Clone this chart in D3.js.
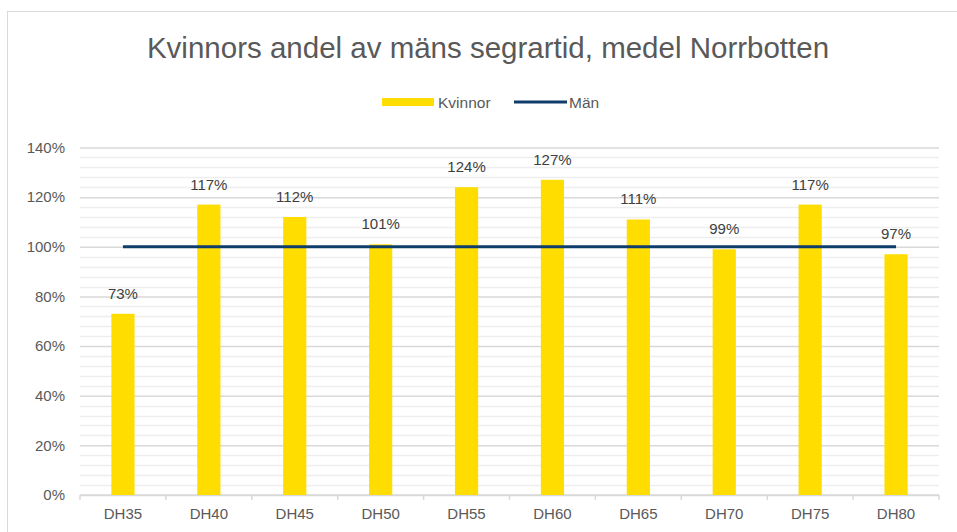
<!DOCTYPE html>
<html>
<head>
<meta charset="utf-8">
<script src="https://cdn.jsdelivr.net/npm/d3@7/dist/d3.min.js"></script>
<style>
  html, body { margin: 0; padding: 0; background: #fff; }
  svg { display: block; font-family: 'Liberation Sans', Arial, sans-serif; }
</style>
</head>
<body>
<svg id="chart" width="957" height="532"></svg>
<script>
  // ---- Data ----
  const categories = ['DH35', 'DH40', 'DH45', 'DH50', 'DH55', 'DH60', 'DH65', 'DH70', 'DH75', 'DH80'];
  const kvinnor = [0.73, 1.17, 1.12, 1.01, 1.24, 1.27, 1.11, 0.99, 1.17, 0.97];
  const man = [1, 1, 1, 1, 1, 1, 1, 1, 1, 1];
  const yTicks = [0, 0.2, 0.4, 0.6, 0.8, 1.0, 1.2, 1.4];

  const BAR_COLOR = '#FFDD00';
  const LINE_COLOR = '#0E3D6B';
  const TEXT_COLOR = '#595959';

  const svg = d3.select('#chart');

  // chart frame (cut off at right and bottom like the reference)
  svg.append('rect')
    .attr('x', 7.5).attr('y', 11.5)
    .attr('width', 960).attr('height', 540)
    .attr('fill', '#fff')
    .attr('stroke', '#d9d9d9')
    .attr('stroke-width', 1);

  const plot = { left: 80, right: 939, top: 147.5, bottom: 495 };

  const x = d3.scaleBand()
    .domain(categories)
    .range([plot.left, plot.right])
    .padding(0);

  const y = d3.scaleLinear()
    .domain([0, 1.4])
    .range([plot.bottom, plot.top]);

  const barW = x.bandwidth() * 0.27;

  // Title
  svg.append('text')
    .attr('x', 488).attr('y', 58)
    .attr('text-anchor', 'middle')
    .attr('font-size', 29.5)
    .attr('fill', TEXT_COLOR)
    .text('Kvinnors andel av mäns segrartid, medel Norrbotten');

  // Legend
  const legend = svg.append('g').attr('font-size', 15.5).attr('fill', TEXT_COLOR);
  legend.append('rect')
    .attr('x', 382).attr('y', 98).attr('width', 52).attr('height', 8)
    .attr('fill', BAR_COLOR);
  legend.append('text').attr('x', 438).attr('y', 107.5).text('Kvinnor');
  legend.append('line')
    .attr('x1', 514).attr('x2', 567).attr('y1', 102).attr('y2', 102)
    .attr('stroke', LINE_COLOR).attr('stroke-width', 3);
  legend.append('text').attr('x', 569).attr('y', 107.5).text('Män');

  // Minor gridlines (every 4%)
  const minor = d3.range(0, 1.4001, 0.04).filter(function (v) {
    return Math.abs(Math.round(v * 5) - v * 5) > 1e-6;
  });
  svg.append('g')
    .selectAll('line')
    .data(minor)
    .enter()
    .append('line')
    .attr('x1', plot.left).attr('x2', plot.right)
    .attr('y1', function (d) { return Math.round(y(d)) + 0.5; })
    .attr('y2', function (d) { return Math.round(y(d)) + 0.5; })
    .attr('stroke', '#eeeeee')
    .attr('stroke-width', 1.5);

  // Major gridlines + y axis labels
  const yAxis = d3.axisLeft(y)
    .tickValues(yTicks)
    .tickSize(-(plot.right - plot.left))
    .tickPadding(15)
    .tickFormat(d3.format('.0%'));

  const gy = svg.append('g')
    .attr('transform', 'translate(' + plot.left + ',0)')
    .call(yAxis);
  gy.select('.domain').remove();
  gy.selectAll('.tick line').attr('stroke', '#d9d9d9').attr('stroke-width', 1.5);
  gy.selectAll('.tick text')
    .attr('fill', TEXT_COLOR)
    .attr('font-size', 15)
    .attr('font-family', "'Liberation Sans', Arial, sans-serif");

  // X axis with ticks at category boundaries
  const gx = svg.append('g')
    .attr('transform', 'translate(0,' + plot.bottom + ')');
  gx.append('line')
    .attr('x1', plot.left).attr('x2', plot.right)
    .attr('stroke', '#d9d9d9').attr('stroke-width', 1.5);
  const boundaries = categories.map(function (c) { return x(c); }).concat([plot.right]);
  gx.selectAll('line.tk')
    .data(boundaries)
    .enter()
    .append('line')
    .attr('class', 'tk')
    .attr('x1', function (d) { return d; })
    .attr('x2', function (d) { return d; })
    .attr('y1', 0).attr('y2', 5)
    .attr('stroke', '#d9d9d9').attr('stroke-width', 1.5);
  gx.selectAll('text')
    .data(categories)
    .enter()
    .append('text')
    .attr('x', function (d) { return x(d) + x.bandwidth() / 2; })
    .attr('y', 24)
    .attr('text-anchor', 'middle')
    .attr('font-size', 15)
    .attr('fill', TEXT_COLOR)
    .text(function (d) { return d; });

  // Bars
  svg.append('g')
    .selectAll('rect')
    .data(kvinnor)
    .enter()
    .append('rect')
    .attr('x', function (d, i) { return x(categories[i]) + (x.bandwidth() - barW) / 2; })
    .attr('y', function (d) { return y(d); })
    .attr('width', barW)
    .attr('height', function (d) { return y(0) - y(d); })
    .attr('fill', BAR_COLOR);

  // Value labels
  svg.append('g')
    .selectAll('text')
    .data(kvinnor)
    .enter()
    .append('text')
    .attr('x', function (d, i) { return x(categories[i]) + x.bandwidth() / 2; })
    .attr('y', function (d) { return y(d) - 15; })
    .attr('text-anchor', 'middle')
    .attr('font-size', 15)
    .attr('fill', '#404040')
    .text(function (d) { return Math.round(d * 100) + '%'; });

  // Män line
  const line = d3.line()
    .x(function (d, i) { return x(categories[i]) + x.bandwidth() / 2; })
    .y(function (d) { return y(d); });

  svg.append('path')
    .datum(man)
    .attr('d', line)
    .attr('fill', 'none')
    .attr('stroke', LINE_COLOR)
    .attr('stroke-width', 3);
</script>
</body>
</html>
